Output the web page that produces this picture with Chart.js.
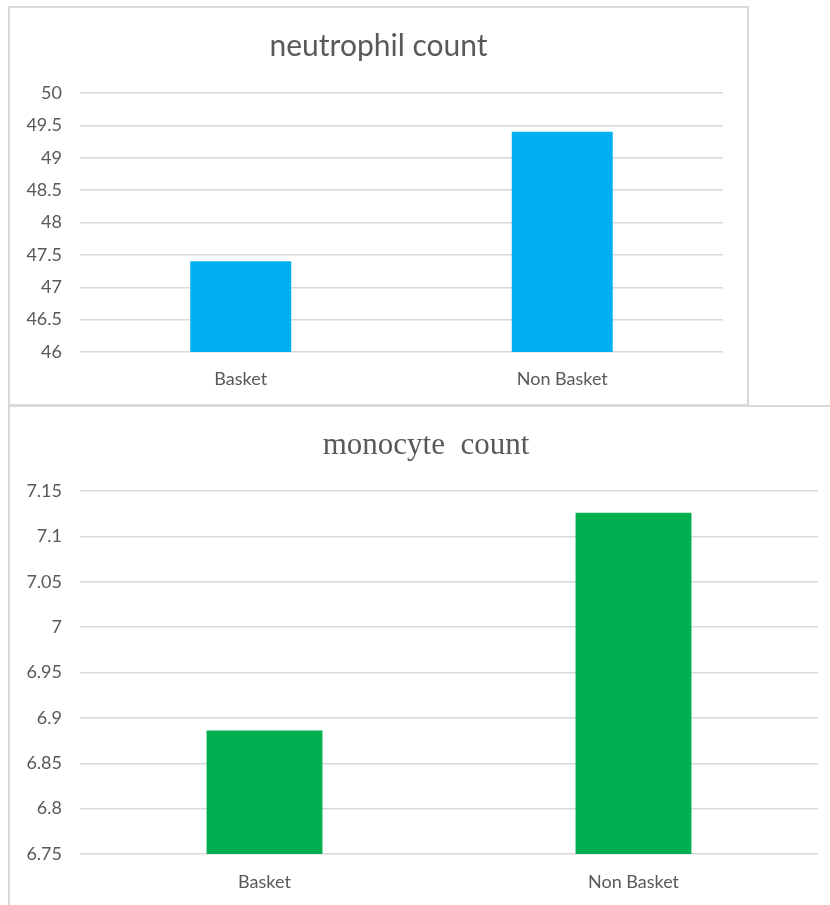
<!DOCTYPE html>
<html>
<head>
<meta charset="utf-8">
<script src="https://cdn.jsdelivr.net/npm/chart.js@4.4.1/dist/chart.umd.min.js"></script>
<style>
  body { margin: 0; background: #fff; overflow: hidden; }
  .panel { position: absolute; background: #fff; box-sizing: border-box; overflow: hidden; }
  #top { left: 8px; top: 6px; width: 741px; height: 400px; border: 2px solid #d9d9d9; }
  #bottom { left: 8px; top: 405px; width: 840px; height: 505px; border-top: 2px solid #d9d9d9; border-left: 2px solid #d9d9d9; }
  canvas { display: block; }
</style>
</head>
<body>
<div class="panel" id="top"><canvas id="neutro" width="737" height="396"></canvas></div>
<div class="panel" id="bottom"><canvas id="mono" width="832" height="498"></canvas></div>
<script>
// ===== Data =====
const categories = ['Basket', 'Non Basket'];
const neutrophilValues = [47.4, 49.4];
const monocyteValues = [6.886, 7.126];
const neutrophilTicks = [46, 46.5, 47, 47.5, 48, 48.5, 49, 49.5, 50];
const monocyteTicks = [6.75, 6.8, 6.85, 6.9, 6.95, 7, 7.05, 7.1, 7.15];

const grey = '#595959';
const gridGrey = '#d9d9d9';

function makeChart(id, title, values, ticks, color, titleFont, pad) {
    const ctx = document.getElementById(id).getContext('2d');
    return new Chart(ctx, {
        type: 'bar',
        data: {
            labels: categories,
            datasets: [{
                data: values,
                backgroundColor: color,
                categoryPercentage: 1,
                barPercentage: 0.314
            }]
        },
        options: {
            responsive: false,
            animation: false,
            layout: { padding: 0 },
            plugins: {
                legend: { display: false },
                tooltip: { enabled: false },
                title: {
                    display: true,
                    text: title,
                    color: grey,
                    font: titleFont,
                    padding: { top: pad.titleTop, bottom: pad.titleBottom }
                }
            },
            scales: {
                x: {
                    afterFit: s => { s.height = pad.xHeight; },
                    grid: { display: false, drawTicks: false },
                    border: { display: false },
                    ticks: { color: grey, font: { family: 'Lato', size: 18 }, padding: pad.xPad }
                },
                y: {
                    min: ticks[0],
                    max: ticks[ticks.length - 1],
                    afterFit: s => { s.width = 70; },
                    afterBuildTicks: s => { s.ticks = ticks.map(v => ({ value: v })); },
                    grid: { color: gridGrey, lineWidth: 1.5, drawTicks: false },
                    border: { display: false },
                    ticks: {
                        color: grey,
                        font: { family: 'Lato', size: 18 },
                        padding: 18,
                        callback: v => String(parseFloat(Number(v).toFixed(2)))
                    }
                },
                // empty right-hand margin so the title centres on the whole panel
                spacer: {
                    type: 'linear',
                    position: 'right',
                    afterFit: s => { s.width = pad.right; },
                    grid: { display: false, drawTicks: false },
                    border: { display: false },
                    ticks: { display: false }
                }
            }
        }
    });
}

makeChart('neutro', 'neutrophil count', neutrophilValues, neutrophilTicks, '#00b0f0',
    { family: 'Lato', size: 30, weight: 'normal' },
    { right: 24, titleTop: 20, titleBottom: 29, xHeight: 52, xPad: 16 });

makeChart('mono', 'monocyte  count', monocyteValues, monocyteTicks, '#00b050',
    { family: 'Liberation Serif', size: 31, weight: 'normal' },
    { right: 24, titleTop: 20.4, titleBottom: 26.4, xHeight: 51, xPad: 17 });
</script>
</body>
</html>
